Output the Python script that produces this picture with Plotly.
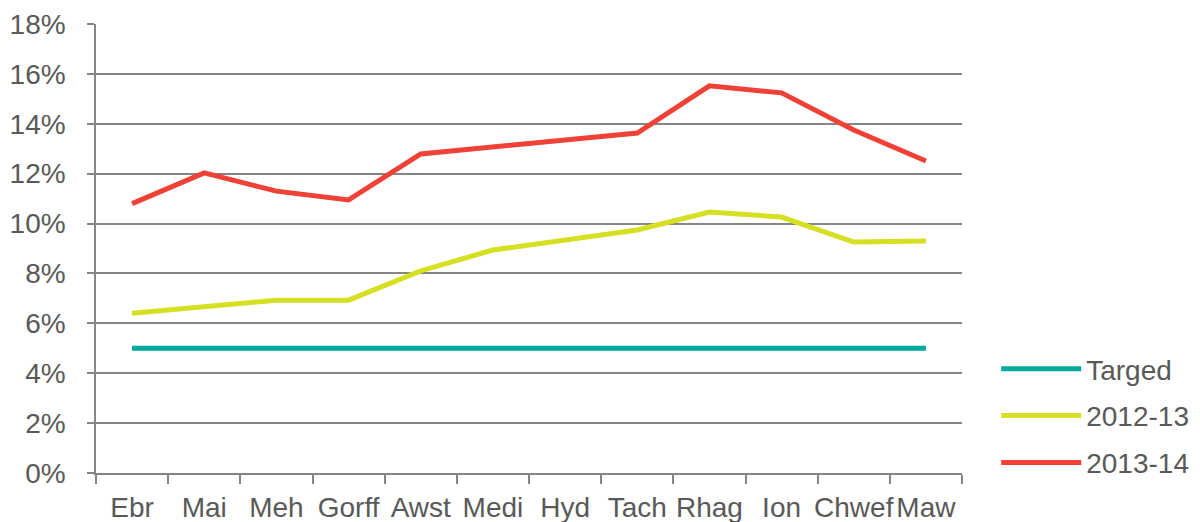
import plotly.graph_objects as go

months = ["Ebr", "Mai", "Meh", "Gorff", "Awst", "Medi", "Hyd", "Tach", "Rhag", "Ion", "Chwef", "Maw"]
target = [5, 5, 5, 5, 5, 5, 5, 5, 5, 5, 5, 5]
y2012_13 = [6.4, 6.65, 6.93, 6.93, 8.1, 8.94, 9.34, 9.74, 10.46, 10.26, 9.26, 9.3]
y2013_14 = [10.8, 12.03, 11.3, 10.95, 12.79, 13.07, 13.39, 13.63, 15.52, 15.24, 13.75, 12.51]
y_ticks = [0, 2, 4, 6, 8, 10, 12, 14, 16, 18]
y_tick_labels = [f"{v}%" for v in y_ticks]

FONT = "Liberation Sans, Arial, sans-serif"
TXT = "#595959"
GRID = "#858585"
FS = 28

fig = go.Figure()
series = [("Targed", target, "#00A99D"), ("2012-13", y2012_13, "#D7DF23"), ("2013-14", y2013_14, "#EF4136")]
for i, (name, vals, col) in enumerate(series):
    fig.add_trace(go.Scatter(x=months, y=vals, name=name, mode="lines",
                             line=dict(color=col, width=5), legendgroup=f"g{i}"))

fig.update_layout(
    width=1200, height=522,
    margin=dict(l=88, r=246, t=16, b=57, autoexpand=False),
    paper_bgcolor="white", plot_bgcolor="white",
    font=dict(family=FONT, size=FS, color=TXT),
    showlegend=True,
    legend=dict(x=1.0395, y=0.127, xanchor="left", yanchor="middle",
                font=dict(family=FONT, size=FS, color=TXT),
                tracegroupgap=7.5, traceorder="grouped", itemwidth=80,
                bgcolor="rgba(0,0,0,0)"),
)
fig.update_xaxes(type="category", range=[-0.5, 11.5], tickson="boundaries",
                 ticks="outside", ticklen=9, tickcolor=GRID, tickwidth=1.5,
                 showline=True, linecolor=GRID, linewidth=1.5, showgrid=False,
                 tickangle=0, automargin=False,
                 tickfont=dict(family=FONT, size=FS, color=TXT), ticklabelstandoff=9)
fig.update_yaxes(range=[0, 18], tickvals=y_ticks, ticktext=y_tick_labels,
                 ticks="outside", ticklen=7, tickcolor=GRID, tickwidth=1.5,
                 showline=True, linecolor=GRID, linewidth=1.5, automargin=False,
                 showgrid=True, gridcolor=GRID, gridwidth=1.5, zeroline=False,
                 tickfont=dict(family=FONT, size=FS, color=TXT), ticklabelstandoff=16)

fig.write_html("out.html")
